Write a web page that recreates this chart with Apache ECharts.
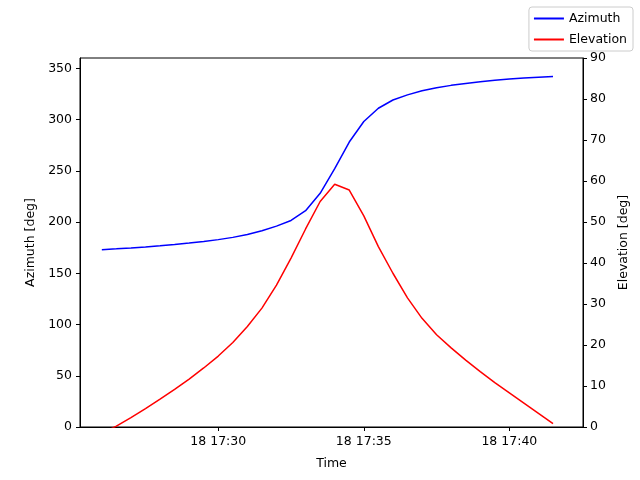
<!DOCTYPE html>
<html><head><meta charset="utf-8">
<script src="https://cdn.jsdelivr.net/npm/echarts@6/dist/echarts.min.js"></script>
<style>html,body{margin:0;padding:0;background:#fff}#c{width:640px;height:480px}</style>
</head><body><div id="c"></div>
<script>
const times = ["17:26:00","17:26:30","17:27:00","17:27:30","17:28:00","17:28:30","17:29:00","17:29:30","17:30:00","17:30:30","17:31:00","17:31:30","17:32:00","17:32:30","17:33:00","17:33:30","17:34:00","17:34:30","17:35:00","17:35:30","17:36:00","17:36:30","17:37:00","17:37:30","17:38:00","17:38:30","17:39:00","17:39:30","17:40:00","17:40:30","17:41:00","17:41:30"];
const azimuth = [173,173.8,174.7,175.7,176.8,178,179.4,181,182.8,185,187.8,191.5,196,201.5,211,228,252,278,298,311,319,324,328,331,333.3,335.2,336.8,338.2,339.4,340.4,341.3,342];
const elevation = [-1.5,0.2,2.3,4.5,6.8,9.2,11.7,14.4,17.3,20.6,24.5,29,34.6,41.2,48.3,55,59.2,57.8,51.5,44,37.5,31.5,26.5,22.5,19.3,16.3,13.5,10.8,8.3,5.8,3.3,0.8];
const xTicks = [30,35,40];
const leftTicks = [0,50,100,150,200,250,300,350];
const rightTicks = [0,10,20,30,40,50,60,70,80,90];

const toMin = t => { const [h,m,s] = t.split(':').map(Number); return (h-17)*60 + m + s/60; };
const azData = times.map((t,i)=>[toMin(t), azimuth[i]]);
const elData = times.map((t,i)=>[toMin(t), elevation[i]]);
const font = {fontFamily:'DejaVu Sans', fontSize:12.5, color:'#000'};
const axLine = {show:true, lineStyle:{color:'#000', width:1}};
const tick = {show:true, inside:false, length:4, lineStyle:{color:'#000'}};

const chart = echarts.init(document.getElementById('c'));
chart.setOption({
  animation:false,
  grid:{left:80, right:57, top:58, bottom:53, show:true, borderColor:'#000', borderWidth:1, containLabel:false},
  legend:{right:7, top:7, orient:'vertical', itemWidth:30, itemHeight:2, itemGap:8,
    textStyle:{fontFamily:'DejaVu Sans', fontSize:12.5, color:'#000'},
    borderColor:'#ccc', borderWidth:1, borderRadius:3, padding:[5,6,5,5],
    icon:'rect', data:['Azimuth','Elevation']},
  xAxis:{type:'value', min:25.25, max:42.53, name:'Time', nameLocation:'middle', nameGap:30,
    nameTextStyle:font, axisLine:axLine, splitLine:{show:false},
    axisTick:Object.assign({customValues:xTicks}, tick),
    axisLabel:Object.assign({customValues:xTicks, margin:8, formatter:v=>'18 17:'+String(Math.round(v)).padStart(2,'0')}, font)},
  yAxis:[
    {type:'value', min:0, max:360, name:'Azimuth [deg]', nameLocation:'middle', nameGap:43, nameRotate:90,
     nameTextStyle:font, axisLine:axLine, splitLine:{show:false},
     axisTick:Object.assign({customValues:leftTicks}, tick),
     axisLabel:Object.assign({customValues:leftTicks, margin:8}, font)},
    {type:'value', min:0, max:90, position:'right', name:'Elevation [deg]', nameLocation:'middle', nameGap:33, nameRotate:90,
     nameTextStyle:font, axisLine:axLine, splitLine:{show:false},
     axisTick:Object.assign({customValues:rightTicks}, tick),
     axisLabel:Object.assign({customValues:rightTicks, margin:7}, font)}
  ],
  series:[
    {name:'Azimuth', type:'line', yAxisIndex:0, data:azData, showSymbol:false, clip:true,
     lineStyle:{color:'#0000ff', width:1.5}, itemStyle:{color:'#0000ff'}},
    {name:'Elevation', type:'line', yAxisIndex:1, data:elData, showSymbol:false, clip:true,
     lineStyle:{color:'#ff0000', width:1.5}, itemStyle:{color:'#ff0000'}}
  ]
});
</script></body></html>
